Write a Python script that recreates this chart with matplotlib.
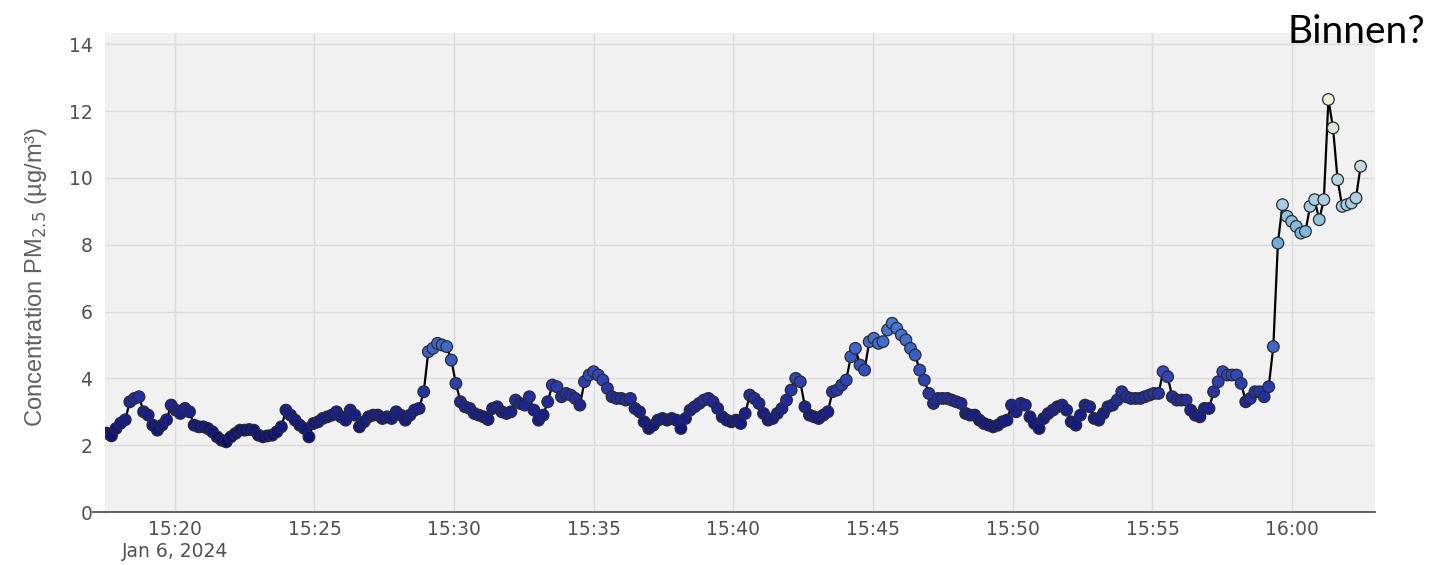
import matplotlib
matplotlib.use('Agg')
import matplotlib.pyplot as plt
from matplotlib.colors import LinearSegmentedColormap
import numpy as np
import pandas as pd

# PM2.5 readings (~10 s apart)
pm25 = [
    # 15:17:30 - 15:31
    2.36, 2.28, 2.5, 2.66, 2.76, 3.3, 3.4, 3.45, 3.0, 2.9,
    2.6, 2.45, 2.6, 2.76, 3.2, 3.05, 2.95, 3.1, 3.0, 2.6,
    2.55, 2.55, 2.5, 2.4, 2.25, 2.15, 2.1, 2.25, 2.35, 2.45, 2.45,
    2.47, 2.45, 2.3, 2.25, 2.28, 2.3, 2.4, 2.55, 3.05, 2.9,
    2.75, 2.6, 2.5, 2.25, 2.65, 2.7, 2.8, 2.85, 2.9, 3.0,
    2.85, 2.75, 3.05, 2.9, 2.55, 2.7, 2.85, 2.9, 2.9, 2.8,
    2.85, 2.8, 3.0, 2.9, 2.75, 2.9, 3.05, 3.1, 3.6, 4.8,
    4.9, 5.05, 5.0, 4.95, 4.55, 3.85, 3.3, 3.15, 3.1, 2.95,
    # 15:31 - 15:42
    2.9, 2.85, 2.77, 3.1, 3.15, 3.0, 2.95, 3.0, 3.35, 3.25,
    3.2, 3.45, 3.05, 2.75, 2.9, 3.3, 3.8, 3.75, 3.45, 3.55,
    3.5, 3.4, 3.2, 3.9, 4.1, 4.2, 4.1, 3.95, 3.7, 3.45,
    3.4, 3.4, 3.35, 3.4, 3.1, 3.0, 2.7, 2.5, 2.6, 2.75,
    2.8, 2.75, 2.8, 2.75, 2.5, 2.8, 3.05, 3.15, 3.25, 3.35,
    3.4, 3.3, 3.1, 2.85, 2.75, 2.7, 2.75, 2.65, 2.95, 3.5,
    3.4, 3.25, 2.95, 2.75, 2.8,
    2.95, 3.1, 3.35, 3.65, 4.0,
    # 15:42 - 15:56
    3.9, 3.15, 2.9, 2.85, 2.8, 2.9, 3.0, 3.6, 3.65, 3.8,
    3.95, 4.65, 4.9, 4.4, 4.25, 5.1, 5.2, 5.05, 5.1, 5.45,
    5.65, 5.5, 5.3, 5.15, 4.9, 4.7, 4.25, 3.95, 3.55, 3.25,
    3.4, 3.4, 3.4, 3.35, 3.3, 3.25, 2.95, 2.9, 2.9, 2.75,
    2.65, 2.6, 2.55, 2.6, 2.7, 2.75, 3.2, 3.0, 3.25, 3.2,
    2.85, 2.65, 2.5, 2.8, 2.95, 3.05, 3.15, 3.2, 3.05, 2.7,
    2.6, 2.9, 3.2, 3.15, 2.8, 2.75, 2.95, 3.15, 3.2, 3.35,
    3.6, 3.45, 3.4, 3.4, 3.4, 3.45, 3.5, 3.55, 3.55, 4.2,
    4.05, 3.45, 3.35,
    # 15:56 - 16:02:30
    3.35, 3.35, 3.05, 2.9, 2.85, 3.1, 3.1, 3.6, 3.9, 4.2,
    4.1, 4.1, 4.1, 3.85, 3.3, 3.4, 3.6, 3.6, 3.45, 3.75,
    4.95, 8.05, 9.2, 8.85, 8.7, 8.55, 8.35, 8.4, 9.15, 9.35,
    8.75, 9.35, 12.35, 11.5, 9.95, 9.15, 9.2, 9.25, 9.4, 10.35,
]
t_first = '2024-01-06 15:17:34'
t_last = '2024-01-06 16:02:27'
x_range = ('2024-01-06 15:17:30', '2024-01-06 16:02:58')
y_ticks = [0, 2, 4, 6, 8, 10, 12, 14]
x_ticks = pd.date_range('2024-01-06 15:20', '2024-01-06 16:00', freq='5min')

times = pd.date_range(t_first, t_last, periods=len(pm25))
values = np.array(pm25)

cmap = LinearSegmentedColormap.from_list('pm', [
    (0.0, '#0a1078'), (0.1, '#1a2496'), (0.2, '#2f4cc0'), (0.3, '#4170d4'),
    (0.55, '#5ca6d6'), (0.7, '#a6cfe4'), (1.0, '#eeefd4')])

fig = plt.figure(figsize=(14.4, 5.65), dpi=100)
ax = fig.add_axes([105 / 1440, 1 - 512 / 565, 1270 / 1440, 479 / 565])
ax.set_facecolor('#f1f1f1')

ax.plot(times, values, color='black', lw=1.6, zorder=2)
ax.scatter(times, values, c=values, cmap=cmap, vmin=values.min(), vmax=values.max(),
           s=70, edgecolors='#2b2b2b', linewidths=0.9, zorder=3)

ax.set_xlim(pd.Timestamp(x_range[0]), pd.Timestamp(x_range[1]))
ax.set_ylim(0, 14.34)

ax.set_yticks(y_ticks)
ax.set_yticklabels([str(v) for v in y_ticks])
ax.set_xticks(x_ticks)
labels = [t.strftime('%H:%M') for t in x_ticks]
labels[0] = labels[0] + '\nJan 6, 2024'
ax.set_xticklabels(labels)

ax.grid(True, color='#dcdcdc', lw=1.0, zorder=0)
ax.set_axisbelow(True)
for side in ('top', 'right', 'left'):
    ax.spines[side].set_visible(False)
ax.spines['bottom'].set_color('#555555')
ax.spines['bottom'].set_linewidth(1.3)

ax.tick_params(axis='x', length=0, pad=6, labelsize=13.5, labelcolor='#505050')
ax.tick_params(axis='y', length=0, pad=9, labelsize=13.5, labelcolor='#505050')
# zero line sticks out a bit to the left
ax.plot([-12 / 1270, 0], [0, 0], transform=ax.get_yaxis_transform(),
        color='#555555', lw=1.3, clip_on=False)

ax.set_ylabel('Concentration PM$_{2.5}$ (µg/m³)', fontsize=17, color='#606060',
              family='Liberation Sans')
ax.yaxis.set_label_coords(-56 / 1270, 0.49)

fig.text(0.99, 0.975, 'Binnen?', ha='right', va='top', fontsize=28, family='Lato',
         color='black')

fig.savefig('out.png', dpi=100)
